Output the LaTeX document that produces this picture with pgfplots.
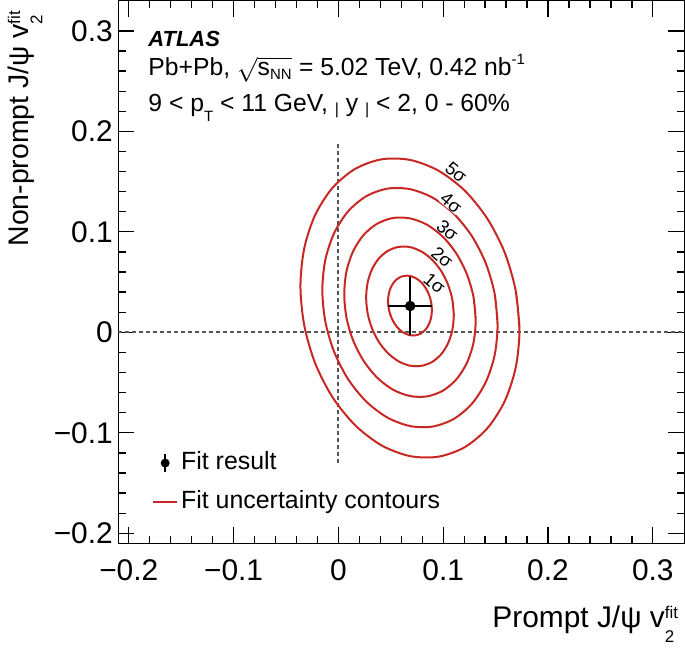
\documentclass[border=0pt]{standalone}
\usepackage{fontspec}
\setmainfont{Liberation Sans}
\usepackage{pgfplots}
\pgfplotsset{compat=1.18}

\definecolor{cred}{RGB}{200,40,35}
\definecolor{dgray}{RGB}{85,85,85}

% v_2^fit with stacked sub/superscript
\newcommand\vfit{v\makebox[0pt][l]{\raisebox{-0.5em}{\fontsize{17}{17}\selectfont 2}}\raisebox{0.29em}{\fontsize{17}{17}\selectfont fit}}

\begin{document}
\begin{tikzpicture}
\begin{axis}[
    name=ax,
    at={(0,0)}, anchor=south west,
    scale only axis,
    width=566bp, height=542.6bp,
    xmin=-0.21, xmax=0.33,
    ymin=-0.21, ymax=0.33,
    xtick={-0.2,-0.1,0,0.1,0.2,0.3},
    xticklabels={−0.2,−0.1,0,0.1,0.2,0.3},
    ytick={-0.2,-0.1,0,0.1,0.2,0.3},
    yticklabels={−0.2,−0.1,0,0.1,0.2,0.3},
    minor x tick num=4, minor y tick num=4,
    tick align=inside,
    major tick length=16bp, minor tick length=7.5bp,
    tick style={black, line width=1.3bp},
    axis line style={line width=1.5bp},
    tick label style={font=\fontsize{30}{34}\selectfont},
    xticklabel style={yshift=-13bp},
    yticklabel style={xshift=-2bp},
    legend style={at={(rel axis cs:0.0595,0.1120)}, anchor=west,
      draw=none, fill=none, inner sep=0pt,
      font=\fontsize{25}{29}\selectfont,
      nodes={inner xsep=3bp, inner ysep=2bp, text height=18bp, text depth=5bp},
      row sep=12bp},
    legend cell align=left,
  ]
  % reference lines
  \addplot[dgray, line width=2bp, dash pattern=on 4bp off 3bp, forget plot]
    coordinates {(-0.21,0) (0.33,0)};
  \addplot[dgray, line width=2bp, dash pattern=on 4bp off 3bp, forget plot]
    coordinates {(0,-0.13) (0,0.19)};

  % 1 sigma
  \addplot[cred, line width=2bp, smooth, forget plot] coordinates {
    (0.0892,0.0222) (0.0885,0.0300) (0.0864,0.0376) (0.0831,0.0444)
    (0.0788,0.0500) (0.0737,0.0540) (0.0683,0.0561) (0.0629,0.0562)
    (0.0578,0.0543) (0.0535,0.0505) (0.0502,0.0451) (0.0481,0.0384)
    (0.0474,0.0310) (0.0481,0.0232) (0.0502,0.0156) (0.0535,0.0088)
    (0.0578,0.0032) (0.0629,-0.0008) (0.0683,-0.0029) (0.0737,-0.0030)
    (0.0788,-0.0011) (0.0831,0.0027) (0.0864,0.0081) (0.0885,0.0148)
    (0.0892,0.0222) (0.0885,0.0300)};
  % 2 sigma
  \addplot[cred, line width=2bp, smooth, forget plot] coordinates {
    (0.1101,0.0171) (0.1087,0.0327) (0.1045,0.0477) (0.0979,0.0613)
    (0.0892,0.0725) (0.0791,0.0805) (0.0683,0.0848) (0.0575,0.0850)
    (0.0474,0.0812) (0.0387,0.0736) (0.0321,0.0628) (0.0279,0.0495)
    (0.0265,0.0345) (0.0279,0.0189) (0.0321,0.0039) (0.0387,-0.0097)
    (0.0474,-0.0209) (0.0575,-0.0289) (0.0683,-0.0332) (0.0791,-0.0334)
    (0.0892,-0.0296) (0.0979,-0.0220) (0.1045,-0.0112) (0.1087,0.0021)
    (0.1101,0.0171) (0.1087,0.0327)};
  % 3 sigma
  \addplot[cred, line width=2bp, smooth, forget plot] coordinates {
    (0.1310,0.0119) (0.1289,0.0353) (0.1226,0.0579) (0.1126,0.0783)
    (0.0997,0.0951) (0.0845,0.1071) (0.0683,0.1134) (0.0521,0.1138)
    (0.0370,0.1081) (0.0240,0.0968) (0.0140,0.0805) (0.0077,0.0605)
    (0.0056,0.0381) (0.0077,0.0147) (0.0140,-0.0079) (0.0240,-0.0283)
    (0.0370,-0.0451) (0.0521,-0.0571) (0.0683,-0.0634) (0.0845,-0.0638)
    (0.0997,-0.0581) (0.1126,-0.0468) (0.1226,-0.0305) (0.1289,-0.0105)
    (0.1310,0.0119) (0.1289,0.0353)};
  % 4 sigma
  \addplot[cred, line width=2bp, smooth, forget plot] coordinates {
    (0.1519,0.0072) (0.1491,0.0383) (0.1407,0.0685) (0.1274,0.0957)
    (0.1101,0.1180) (0.0899,0.1340) (0.0683,0.1425) (0.0467,0.1430)
    (0.0265,0.1354) (0.0092,0.1203) (-0.0041,0.0986) (-0.0125,0.0719)
    (-0.0153,0.0420) (-0.0125,0.0109) (-0.0041,-0.0193) (0.0092,-0.0465)
    (0.0265,-0.0688) (0.0467,-0.0848) (0.0683,-0.0933) (0.0899,-0.0938)
    (0.1101,-0.0862) (0.1274,-0.0711) (0.1407,-0.0494) (0.1491,-0.0227)
    (0.1519,0.0072) (0.1491,0.0383)};
  % 5 sigma
  \addplot[cred, line width=2bp, smooth, forget plot] coordinates {
    (0.1728,0.0024) (0.1692,0.0413) (0.1588,0.0791) (0.1422,0.1130)
    (0.1206,0.1410) (0.0953,0.1610) (0.0683,0.1716) (0.0413,0.1722)
    (0.0161,0.1627) (-0.0056,0.1438) (-0.0222,0.1167) (-0.0326,0.0834)
    (-0.0362,0.0460) (-0.0326,0.0071) (-0.0222,-0.0307) (-0.0056,-0.0646)
    (0.0161,-0.0926) (0.0413,-0.1126) (0.0683,-0.1232) (0.0953,-0.1238)
    (0.1206,-0.1143) (0.1422,-0.0954) (0.1588,-0.0683) (0.1692,-0.0350)
    (0.1728,0.0024) (0.1692,0.0413)};

  % contour labels
  \begin{scope}[every node/.style={rotate=-40, fill=white, inner sep=0bp,
      font=\fontsize{18.5}{18.5}\selectfont}]
    \node at (axis cs:0.1124,0.1590) {5σ};
    \node at (axis cs:0.1076,0.1288) {4σ};
    \node at (axis cs:0.1041,0.1017) {3σ};
    \node at (axis cs:0.0990,0.0746) {2σ};
    \node at (axis cs:0.0917,0.0488) {1σ};
  \end{scope}

  % fit result
  \addplot[black, mark=*, mark size=5bp, only marks, forget plot,
    error bars/.cd, x dir=both, y dir=both, x explicit, y explicit,
    error mark=none, error bar style={line width=1.7bp, black}]
    coordinates {(0.0685,0.0262) +- (0.0208,0.0290)};
  \addlegendimage{legend image code/.code={
      \draw[black, line width=1.7bp] (12bp,-9bp) -- (12bp,9bp);
      \fill[black] (12bp,0bp) circle (4.2bp);
      \path[draw=none] (0bp,0bp) -- (24bp,0bp);}}
  \addlegendentry{Fit result}
  \addlegendimage{legend image code/.code={
      \draw[cred, line width=2bp] (0bp,0bp) -- (24bp,0bp);}}
  \addlegendentry{Fit uncertainty contours}
\end{axis}

% texts
\node[anchor=base west, inner sep=0pt, font=\fontsize{22}{26}\selectfont\bfseries\itshape]
  at ([xshift=30bp,yshift=-46bp]ax.north west) {ATLAS};
\node[anchor=base west, inner sep=0pt, font=\fontsize{24.8}{29}\selectfont]
  at ([xshift=30bp,yshift=-75bp]ax.north west)
  {Pb+Pb, $\sqrt{\mbox{s}_{\mbox{\fontsize{15}{15}\selectfont NN}}}$ = 5.02 TeV, 0.42 nb\raisebox{0.45em}{\fontsize{15}{15}\selectfont -1}};
\node[anchor=base west, inner sep=0pt, font=\fontsize{24.8}{29}\selectfont]
  at ([xshift=30bp,yshift=-111bp]ax.north west)
  {9 < p\raisebox{-0.4em}{\fontsize{15}{15}\selectfont T} < 11 GeV, {\fontsize{16}{16}\selectfont\raisebox{-0.15em}{|}} y {\fontsize{16}{16}\selectfont\raisebox{-0.15em}{|}} < 2, 0 - 60\%};

% axis titles
\node[anchor=base east, inner sep=0pt, font=\fontsize{30}{34}\selectfont]
  at ([xshift=-6bp,yshift=-84bp]ax.south east) {Prompt J/ψ \vfit};
\node[anchor=base east, rotate=90, inner sep=0pt, font=\fontsize{28.5}{33}\selectfont]
  at ([xshift=-90bp,yshift=-10bp]ax.north west) {Non-prompt J/ψ \vfit};

\path[use as bounding box] ([xshift=-118.3bp,yshift=-103.7bp]ax.south west)
  rectangle ([xshift=0.7bp,yshift=0.7bp]ax.north east);
\end{tikzpicture}
\end{document}
